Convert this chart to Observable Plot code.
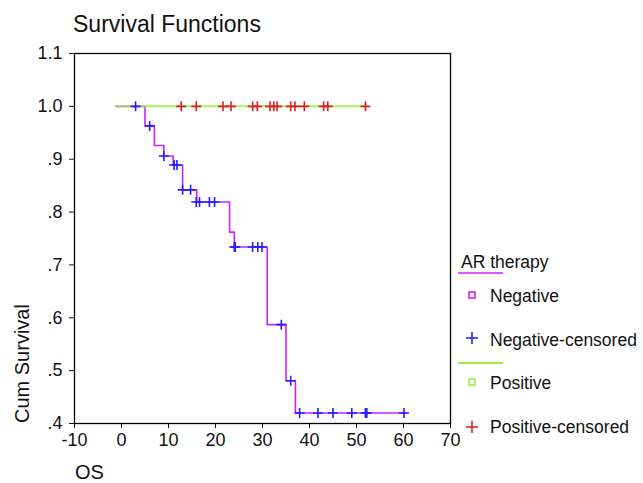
<!DOCTYPE html>
<html><head><meta charset="utf-8">
<script src="https://cdn.jsdelivr.net/npm/d3@7"></script>
<script src="https://cdn.jsdelivr.net/npm/@observablehq/plot@0.6"></script>
<style>body{margin:0;background:#fff;font-family:"Liberation Sans",Arial,sans-serif}</style>
</head><body><div id="chart"></div>
<script>
// Negative group: Kaplan-Meier step points
const negTimes = [-1.2, 5, 7, 9, 11, 13, 16, 23, 24, 31, 35, 37, 60.5];
const negSurv  = [1, .963, .926, .906, .889, .842, .819, .762, .734, .587, .481, .420, .420];
// Negative censored
const negCensTimes = [3, 6, 9, 11.2, 11.8, 13, 14.7, 15.9, 16.6, 18.7, 19.8, 24, 24.2, 27.9, 29.0, 29.9, 34, 36, 37.9, 41.8, 45, 49, 51.9, 52.2, 60.1];
const negCensSurv  = [1, .963, .906, .889, .889, .842, .842, .819, .819, .819, .819, .734, .734, .734, .734, .734, .587, .481, .42, .42, .42, .42, .42, .42, .42];
// Positive group
const posTimes = [-1.2, 52.3];
const posSurv  = [1, 1];
const posCensTimes = [12.7, 15.9, 21.6, 23.3, 27.9, 28.9, 31.6, 32.4, 33.1, 36.0, 36.9, 38.9, 43.0, 43.9, 51.9];
const posCensSurv  = posCensTimes.map(() => 1);

const xTicks = [-10, 0, 10, 20, 30, 40, 50, 60, 70];
const yTicks = [0.4, 0.5, 0.6, 0.7, 0.8, 0.9, 1.0, 1.1];
const legendTitle = "AR therapy";
const legendLabels = ["Negative", "Negative-censored", "Positive", "Positive-censored"];

const C_NEG = "#cc22ff", C_NEGC = "#2a1aff", C_POS = "#99ee44", C_POSC = "#dd2222";

const neg = negTimes.map((t, i) => ({t, s: negSurv[i]}));
const negC = negCensTimes.map((t, i) => ({t, s: negCensSurv[i]}));
const pos = posTimes.map((t, i) => ({t, s: posSurv[i]}));
const posC = posCensTimes.map((t, i) => ({t, s: posCensSurv[i]}));

const cross = {draw(ctx, size) {const r = Math.sqrt(size / Math.PI); ctx.moveTo(-r, 0); ctx.lineTo(r, 0); ctx.moveTo(0, -r); ctx.lineTo(0, r);}};
const fmtY = d => d >= 1 ? d.toFixed(1) : d.toFixed(1).slice(1);

const plot = Plot.plot({
  width: 643, height: 483,
  marginLeft: 74, marginRight: 193, marginTop: 53, marginBottom: 60,
  style: {fontFamily: '"Liberation Sans", Arial, sans-serif', fontSize: "18px", color: "#111", background: "#fff"},
  x: {domain: [-10, 70]},
  y: {domain: [0.4, 1.1]},
  marks: [
    Plot.frame({stroke: "#000", strokeWidth: 1.3}),
    Plot.axisX({ticks: xTicks, tickSize: 5, tickPadding: 5, label: null, fontSize: 18, tickFormat: d => String(d)}),
    Plot.axisY({ticks: yTicks, tickSize: 5, tickPadding: 7, label: null, tickFormat: fmtY, fontSize: 18}),
    Plot.line(neg, {x: "t", y: "s", curve: "step-after", stroke: C_NEG, strokeWidth: 1.6}),
    Plot.line(pos, {x: "t", y: "s", stroke: C_POS, strokeWidth: 2, strokeOpacity: 0.85}),
    Plot.dot(negC, {x: "t", y: "s", symbol: cross, r: 5, stroke: C_NEGC, strokeWidth: 1.6, fill: "none"}),
    Plot.dot(posC, {x: "t", y: "s", symbol: cross, r: 5, stroke: C_POSC, strokeWidth: 1.6, fill: "none"})
  ]
});
document.getElementById("chart").appendChild(plot);

const svg = d3.select(plot);
const ff = '"Liberation Sans", Arial, sans-serif';
const g = svg.append("g").attr("text-anchor", "start").attr("font-family", ff).attr("fill", "#111");
g.append("text").attr("x", 73).attr("y", 32).attr("font-size", 23).text("Survival Functions");
g.append("text").attr("x", 75).attr("y", 479).attr("font-size", 20).text("OS");
g.append("text").attr("transform", "translate(29,423) rotate(-90)").attr("font-size", 20).text("Cum Survival");

// Legend
const lg = g.append("g").attr("font-size", 17.5);
lg.append("text").attr("x", 461).attr("y", 268).text(legendTitle);
lg.append("line").attr("x1", 458).attr("x2", 503).attr("y1", 273).attr("y2", 273).attr("stroke", C_NEG).attr("stroke-width", 1.6);
lg.append("rect").attr("x", 469).attr("y", 292).attr("width", 6).attr("height", 6).attr("fill", "none").attr("stroke", C_NEG).attr("stroke-width", 1.6);
lg.append("text").attr("x", 490).attr("y", 302).text(legendLabels[0]);
lg.append("path").attr("d", "M466,338H478M472,332V344").attr("stroke", C_NEGC).attr("stroke-width", 1.6);
lg.append("text").attr("x", 490).attr("y", 346).text(legendLabels[1]);
lg.append("line").attr("x1", 458).attr("x2", 503).attr("y1", 363).attr("y2", 363).attr("stroke", C_POS).attr("stroke-width", 2);
lg.append("rect").attr("x", 469).attr("y", 379).attr("width", 6).attr("height", 6).attr("fill", "none").attr("stroke", C_POS).attr("stroke-width", 1.6);
lg.append("text").attr("x", 490).attr("y", 389).text(legendLabels[2]);
lg.append("path").attr("d", "M466,427H478M472,421V433").attr("stroke", C_POSC).attr("stroke-width", 1.6);
lg.append("text").attr("x", 490).attr("y", 433).text(legendLabels[3]);
</script>
</body></html>
